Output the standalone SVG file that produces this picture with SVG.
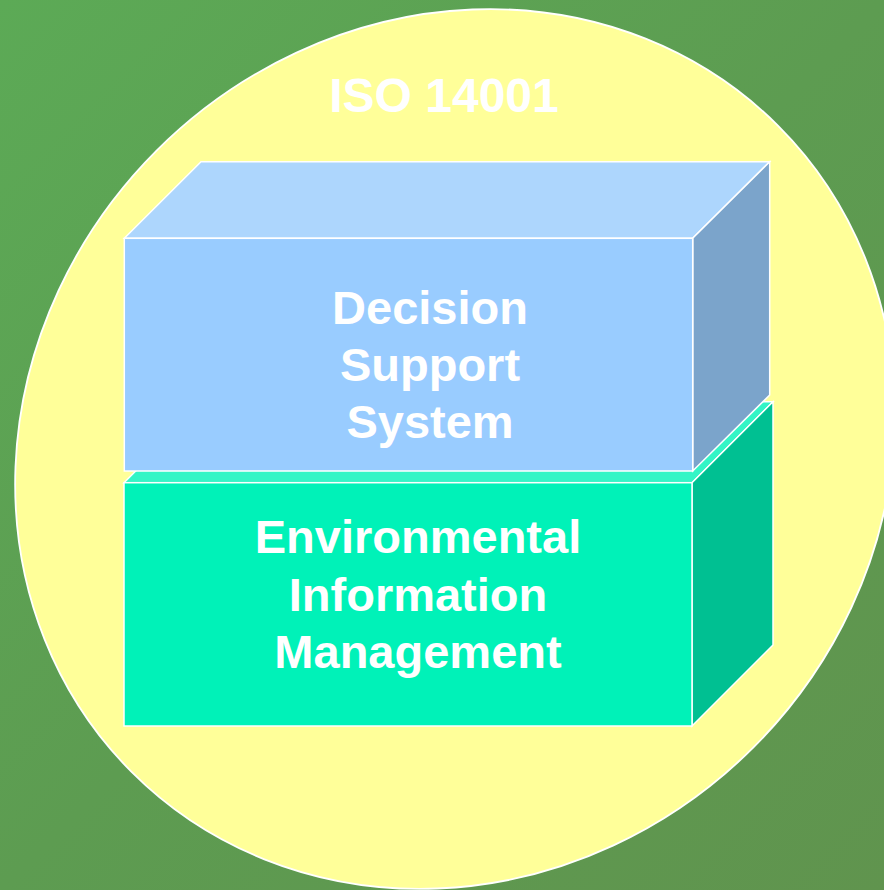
<svg xmlns="http://www.w3.org/2000/svg" width="884" height="890" viewBox="0 0 884 890">
  <defs>
    <linearGradient id="bg" x1="0" y1="0" x2="1" y2="1">
      <stop offset="0" stop-color="#5caa56"/>
      <stop offset="0.5" stop-color="#5d9c51"/>
      <stop offset="1" stop-color="#60944e"/>
    </linearGradient>
  </defs>
  <style>
    .edge { stroke: #ffffff; stroke-width: 1.5; stroke-linejoin: miter; }
    .label { font-family: "Liberation Sans", Arial, sans-serif; font-weight: bold; fill: #ffffff; text-anchor: middle; }
  </style>
  <rect x="0" y="0" width="884" height="890" fill="url(#bg)"/>

  <g id="iso14001">
    <ellipse cx="455" cy="449" rx="457" ry="422" transform="rotate(-45 455 449)" fill="#ffff99" stroke="#ffffff" stroke-width="1.8"/>
    <text class="label" x="444" y="112" font-size="48">ISO 14001</text>
  </g>

  <g id="env-info-mgmt">
    <polygon class="edge" points="124,482.7 205,401.7 773,401.7 692,482.7" fill="#33f5c6"/>
    <polygon class="edge" points="692,482.7 773,401.7 773,645 692,726" fill="#00c092"/>
    <rect class="edge" x="124" y="482.7" width="568" height="243.3" fill="#00f2b8"/>
    <text class="label" x="418" y="553" font-size="47">Environmental</text>
    <text class="label" x="418" y="611" font-size="47">Information</text>
    <text class="label" x="418" y="668" font-size="47">Management</text>
  </g>

  <g id="decision-support">
    <polygon class="edge" points="124.3,238.3 201,161.7 769.7,161.7 692.7,238.3" fill="#add6fd"/>
    <polygon class="edge" points="692.7,238.3 769.7,161.7 769.7,395 692.7,471" fill="#7ba4cb"/>
    <rect class="edge" x="124.3" y="238.3" width="568.4" height="232.7" fill="#99ccff"/>
    <text class="label" x="430" y="324" font-size="47">Decision</text>
    <text class="label" x="430" y="381" font-size="47">Support</text>
    <text class="label" x="430" y="438" font-size="47">System</text>
  </g>

  <g id="connectors"/>
</svg>
